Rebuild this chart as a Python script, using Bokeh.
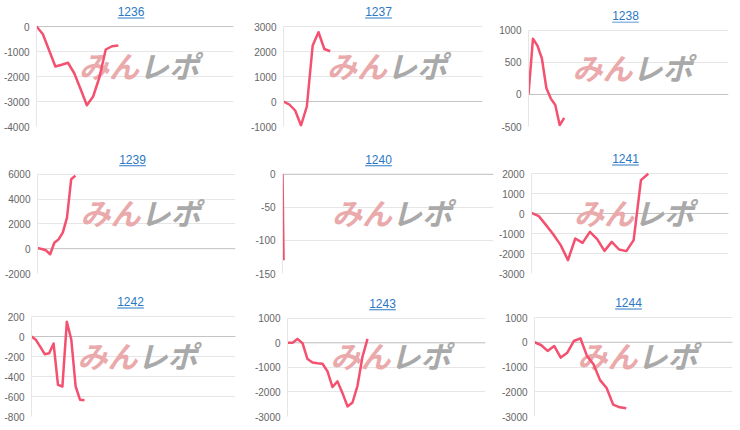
from bokeh.plotting import figure
from bokeh.models import Range1d, FixedTicker, Label, BoxAnnotation, Span
from bokeh.layouts import row, column
from bokeh.embed import file_html
from bokeh.resources import INLINE

# ---------------- data ----------------
NAMES = ["1236", "1237", "1238", "1239", "1240", "1241", "1242", "1243", "1244"]

V1236 = [0, -300, -950, -1600, -1530, -1450, -1870, -2500, -3150, -2800, -2030, -920, -790, -760]
V1237 = [0, -120, -360, -960, -200, 2240, 2770, 2100, 2010]
V1238 = [0, 870, 760, 560, 100, -65, -165, -480, -365]
V1239 = [50, -20, -130, -450, 480, 750, 1300, 2500, 5600, 5890]
V1240 = [0, -130]
V1241 = [30, -130, -580, -1050, -1580, -2330, -1250, -1470, -920, -1280, -1870, -1420, -1800, -1880, -1330, 1670, 1990]
V1242 = [0, -33, -103, -177, -167, -70, -483, -500, 147, -27, -500, -633, -637]
V1243 = [0, 0, 160, -15, -660, -800, -830, -850, -1160, -1800, -1570, -2050, -2590, -2430, -1750, -560, 160]
V1244 = [0, -110, -350, -150, -620, -420, 50, 160, -550, -890, -1530, -1850, -2520, -2630, -2670]
SERIES = [V1236, V1237, V1238, V1239, V1240, V1241, V1242, V1243, V1244]

# x extent (number of slots on the category axis)
XMAX = [31.3, 34.1, 44.8, 47, 200, 27, 46.2, 39.6, 30.2]

T1236 = [-4000, -3000, -2000, -1000, 0]
T1237 = [-1000, 0, 1000, 2000, 3000]
T1238 = [-500, 0, 500, 1000]
T1239 = [-2000, 0, 2000, 4000, 6000]
T1240 = [-150, -100, -50, 0]
T1241 = [-3000, -2000, -1000, 0, 1000, 2000]
T1242 = [-800, -600, -400, -200, 0, 200]
T1243 = [-3000, -2000, -1000, 0, 1000]
T1244 = [-3000, -2000, -1000, 0, 1000]
TICKS = [T1236, T1237, T1238, T1239, T1240, T1241, T1242, T1243, T1244]

# ---------------- layout (page pixels) ----------------
ROW_SPANS = [(0, 145), (145, 290), (290, 428)]
COL_SPANS = [[(0, 245), (245, 490), (490, 740)],
             [(0, 245), (245, 495), (495, 740)],
             [(0, 245), (245, 490), (490, 740)]]
# plot area left, right, top, bottom
FRAMES = [(35, 233, 26, 126), (283, 482, 26, 126), (528, 728, 31, 131),
          (37, 235, 174, 274), (282, 493, 174, 274), (531, 728, 173, 273),
          (31, 235, 316, 416), (287, 485, 318, 417), (534, 732, 317, 416)]
TITLE_X = [130, 378, 625, 132, 378, 625, 130, 382, 628]

LINE_COLOR = "#f4506f"
LINK_COLOR = "#2a78c5"
FONT = "Liberation Sans"


def make_panel(i):
    r, c = divmod(i, 3)
    rs, re_ = ROW_SPANS[r]
    cs, ce = COL_SPANS[r][c]
    L, R, T, B = FRAMES[i]
    ticks = TICKS[i]
    ylo, yhi = min(ticks), max(ticks)
    xmax = XMAX[i]

    def px2x(px):
        return (px - L) / (R - L) * xmax

    def px2y(py):
        return yhi - (py - T) / (B - T) * (yhi - ylo)

    # the frame reaches up to the top of the cell so the title can live inside it
    p = figure(width=ce - cs, height=re_ - rs, output_backend="svg",
               toolbar_location=None, x_axis_location=None,
               x_range=Range1d(0, xmax), y_range=Range1d(ylo, px2y(rs)),
               min_border_left=L - cs, min_border_right=ce - R,
               min_border_top=0, min_border_bottom=re_ - B,
               title=None)
    p.outline_line_color = None
    p.background_fill_color = "white"
    p.border_fill_color = "white"
    p.xgrid.visible = False
    p.ygrid.ticker = FixedTicker(ticks=ticks)
    p.ygrid.grid_line_color = "#e6e6e6"
    p.yaxis.ticker = FixedTicker(ticks=ticks)
    p.yaxis.bounds = (ylo, yhi)
    p.yaxis.major_label_overrides = {t: str(t) for t in ticks}
    p.yaxis.axis_line_color = "#e6e6e6"
    p.yaxis.major_tick_line_color = None
    p.yaxis.minor_tick_line_color = None
    p.yaxis.major_tick_out = 0
    p.yaxis.major_tick_in = 0
    p.yaxis.minor_tick_out = 0
    p.yaxis.major_label_standoff = 7
    p.yaxis.major_label_text_font = FONT
    p.yaxis.major_label_text_font_size = "10px"
    p.yaxis.major_label_text_color = "#666666"

    p.add_layout(Span(location=0, dimension="width", line_color="#c4c4c4", line_width=1, level="underlay"))

    # watermark
    cx = (L + R) / 2 + 4
    cy = (T + B) / 2 - 12
    for txt, align, col in (("みん", "right", "#eaa9ab"), ("レポ", "left", "#a9a9a9")):
        p.add_layout(Label(x=px2x(cx), y=px2y(cy), text=txt, text_align=align, text_baseline="middle",
                           text_font="Noto Sans CJK JP", text_font_style="bold italic",
                           text_font_size="30px", text_color=col, level="underlay"))

    xs = list(range(len(SERIES[i])))
    p.line(xs, SERIES[i], line_color=LINE_COLOR, line_width=2.5, line_join="round")

    # title (link style, underlined)
    tx = TITLE_X[i]
    p.add_layout(Label(x=px2x(tx), y=px2y(T - 15), text=NAMES[i], text_align="center",
                       text_baseline="alphabetic", text_font=FONT, text_font_size="12px",
                       text_color=LINK_COLOR))
    hw = len(NAMES[i]) * 0.556 * 12 / 2
    p.add_layout(BoxAnnotation(left=px2x(tx - hw), right=px2x(tx + hw),
                               top=px2y(T - 9), bottom=px2y(T - 8),
                               fill_color=LINK_COLOR, fill_alpha=1, line_color=None))
    return p


panels = [make_panel(i) for i in range(9)]
layout = column(row(*panels[0:3]), row(*panels[3:6]), row(*panels[6:9]))

open("out.html", "w").write(file_html(layout, INLINE))
